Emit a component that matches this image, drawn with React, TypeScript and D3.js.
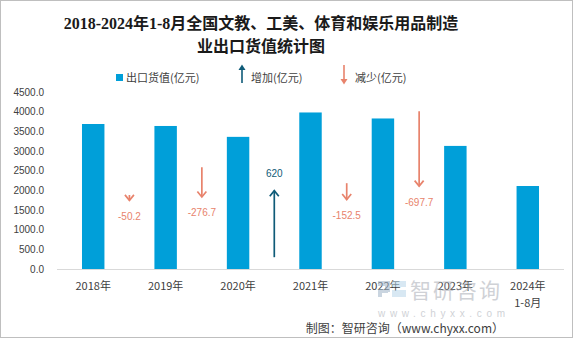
import React from "react";
import * as d3 from "d3";

const categories = ["2018年", "2019年", "2020年", "2021年", "2022年", "2023年", "2024年\n1-8月"];
const exportValues = [3686.4, 3636.2, 3359.5, 3979.5, 3827.0, 3129.3, 2110.0];
const changeValues = [-50.2, -276.7, 620, -152.5, -697.7];
const changeLabels = ["-50.2", "-276.7", "620", "-152.5", "-697.7"];
// starting points of change arrows on the secondary (hidden) axis
const arrowStarts = [690, 948, 110, 800, 1470];
const yTicks = [0, 500, 1000, 1500, 2000, 2500, 3000, 3500, 4000, 4500];

const W = 573;
const H = 338;
const BAR = "#009FD9";
const UP = "#0F5B78";
const DOWN = "#E8836C";
const TXT = "#404040";
const CJK = "'Noto Sans CJK SC', 'Noto Sans', sans-serif";

export default function App() {
  const x = d3.scaleBand<string>().domain(categories).range([57, 564]).paddingInner(0.69).paddingOuter(0.345);
  const y = d3.scaleLinear().domain([0, 4500]).range([269, 92]);
  const y2 = d3.scaleLinear().domain([0, 1650]).range([269, 92]);
  const bw = x.bandwidth();
  const cx = (i: number) => (x(categories[i]) as number) + bw / 2;

  return (
    <svg width={W} height={H} style={{ position: "absolute", left: 0, top: 0, background: "#fff" }}>
      <rect x={0.5} y={0.5} width={W - 1} height={H - 1} fill="#fff" stroke="#bfbfbf" />
      {/* title */}
      <text x={261} y={29} textAnchor="middle" fontSize={16} fontWeight="bold" fill="#1a1a1a"
        fontFamily="'Liberation Serif', 'Times New Roman', 'Noto Sans CJK SC', serif">
        2018-2024年1-8月全国文教、工美、体育和娱乐用品制造
      </text>
      <text x={261} y={52} textAnchor="middle" fontSize={16} fontWeight="bold" fill="#1a1a1a"
        fontFamily="'Liberation Serif', 'Times New Roman', 'Noto Sans CJK SC', serif">
        业出口货值统计图
      </text>
      {/* legend */}
      <rect x={116} y={74} width={7} height={7} fill={BAR} />
      <text x={126} y={81.5} fontSize={11} fill={TXT} fontFamily={CJK}>出口货值(亿元)</text>
      <line x1={242} y1={83} x2={242} y2={66} stroke={UP} strokeWidth={1.6} />
      <path d="M238.5,70 L242,64.5 L245.5,70 Z" fill={UP} />
      <text x={251} y={81.5} fontSize={11} fill={TXT} fontFamily={CJK}>增加(亿元)</text>
      <line x1={344} y1={65} x2={344} y2={82} stroke={DOWN} strokeWidth={1.6} />
      <path d="M340.5,79 L344,84.5 L347.5,79 Z" fill={DOWN} />
      <text x={355} y={81.5} fontSize={11} fill={TXT} fontFamily={CJK}>减少(亿元)</text>
      {/* y axis labels */}
      {yTicks.map((t) => (
        <text key={t} x={44} y={y(t) + 3.5} textAnchor="end" fontSize={10} fill={TXT}
          fontFamily="'Liberation Sans', Arial, sans-serif">
          {t.toFixed(1)}
        </text>
      ))}
      {/* bars */}
      {exportValues.map((v, i) => (
        <rect key={i} x={x(categories[i])} y={y(v)} width={bw} height={y(0) - y(v)} fill={BAR} />
      ))}
      <line x1={57} x2={564} y1={269.5} y2={269.5} stroke="#d9d9d9" />
      {/* x labels */}
      {categories.map((c, i) =>
        c.split("\n").map((part, k) => (
          <text key={i + "-" + k} x={cx(i)} y={290 + k * 17} textAnchor="middle" fontSize={11} fill={TXT} fontFamily={CJK}>
            {part}
          </text>
        ))
      )}
      {/* change arrows */}
      {changeValues.map((d, i) => {
        const mx = (cx(i) + cx(i + 1)) / 2;
        const s = y2(arrowStarts[i]);
        const e = y2(arrowStarts[i] + d);
        const col = d < 0 ? DOWN : UP;
        const dir = d < 0 ? -1 : 1; // head points down for decreases
        const hy = e + dir * 5.5;
        const ly = d < 0 ? e + 19.5 : e - 14;
        return (
          <g key={i}>
            <line x1={mx} y1={s} x2={mx} y2={e} stroke={col} strokeWidth={1.7} />
            <polyline points={`${mx - 4.5},${hy} ${mx},${e} ${mx + 4.5},${hy}`} fill="none" stroke={col} strokeWidth={1.7} />
            <text x={mx} y={ly} textAnchor="middle" fontSize={10} fill={col} fontFamily="'Liberation Sans', Arial, sans-serif">
              {changeLabels[i]}
            </text>
          </g>
        );
      })}
      {/* watermark */}
      <g opacity={0.55}>
        <rect x={378} y={281} width={12} height={5} fill="#9fb3c8" />
        <rect x={385} y={281} width={5} height={11} fill="#9fb3c8" />
        <rect x={378} y={289} width={10} height={4} fill="#9fb3c8" />
        <rect x={378} y={293} width={4} height={4} fill="#9fb3c8" />
        <rect x={392} y={281} width={14} height={6} fill="#b9d7ea" />
        <rect x={392} y={290} width={14} height={7} fill="#b9d7ea" />
        <text x={410} y={298} fontSize={21} fill="#a9adb5" fontFamily={CJK} letterSpacing={2}>智研咨询</text>
        <text x={378} y={317} fontSize={10} fill="#a9adb5" fontFamily="'Liberation Sans', Arial, sans-serif"
          textLength={127} lengthAdjust="spacing">www.chyxx.com</text>
      </g>
      {/* source */}
      <text x={504} y={333} textAnchor="end" fontSize={12} fill={TXT} fontFamily={CJK}>
        制图：智研咨询（www.chyxx.com）
      </text>
    </svg>
  );
}
